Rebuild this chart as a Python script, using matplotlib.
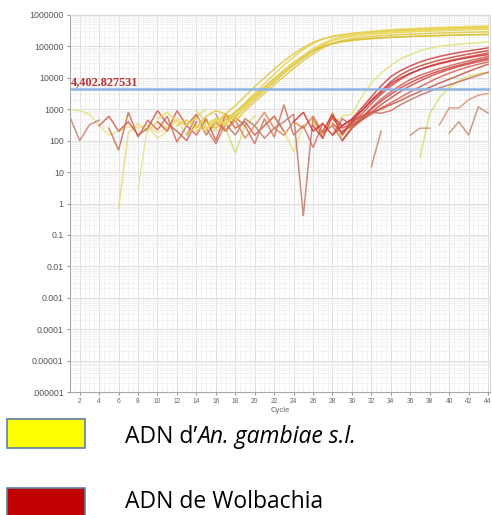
import numpy as np
import matplotlib
matplotlib.use('Agg')
import matplotlib.pyplot as plt
from matplotlib.patches import Rectangle
from matplotlib.ticker import MultipleLocator, LogLocator, NullFormatter

threshold = 4402.827531

# An. gambiae amplification curves: (start cycle, fluorescence values)
gamb_starts = [12, 14, 15, 10, 16, 13, 17, 15]
gamb_values = [
    [300, 450, 250, 600, 900, 700, 1300, 2600, 5200, 10000, 19000, 34000, 58000, 92000, 135000, 175000, 205000, 230000, 250000, 268000, 283000, 297000, 310000, 322000, 333000, 344000, 354000, 364000, 373000, 382000, 390000, 398000, 405000],
    [200, 350, 500, 300, 800, 1500, 2800, 5000, 9000, 16000, 28000, 47000, 75000, 110000, 150000, 185000, 210000, 228000, 243000, 256000, 268000, 279000, 289000, 298000, 307000, 315000, 323000, 330000, 337000, 344000, 350000],
    [400, 250, 450, 600, 1100, 2100, 4000, 7500, 14000, 25000, 43000, 70000, 100000, 125000, 145000, 160000, 172000, 181000, 189000, 196000, 202000, 208000, 213000, 218000, 222000, 226000, 230000, 234000, 237000, 240000],
    [500, 800, 400, 300, 550, 250, 400, 700, 500, 1200, 2400, 4600, 8800, 16500, 30000, 52000, 85000, 125000, 170000, 210000, 245000, 275000, 300000, 320000, 338000, 354000, 368000, 381000, 393000, 404000, 414000, 424000, 433000, 442000, 450000],
    [300, 700, 400, 900, 1700, 3200, 6000, 11000, 20000, 35000, 58000, 90000, 125000, 155000, 178000, 195000, 208000, 219000, 229000, 238000, 246000, 253000, 260000, 266000, 272000, 277000, 282000, 286000, 290000],
    [150, 300, 200, 500, 350, 800, 1600, 3300, 6500, 13000, 25000, 46000, 80000, 125000, 170000, 210000, 240000, 262000, 280000, 296000, 310000, 323000, 335000, 346000, 356000, 366000, 375000, 384000, 392000, 400000, 408000, 415000],
    [500, 800, 1400, 2700, 5000, 9500, 17500, 31000, 50000, 75000, 100000, 122000, 140000, 154000, 166000, 176000, 185000, 193000, 200000, 206000, 212000, 217000, 222000, 226000, 230000, 234000, 237000, 240000],
    [250, 500, 300, 700, 1300, 2500, 4500, 8500, 16000, 29000, 50000, 82000, 120000, 160000, 195000, 222000, 243000, 260000, 275000, 288000, 300000, 311000, 321000, 330000, 339000, 347000, 355000, 362000, 369000, 375000],
]
gamb_colors = ['#e2c63a', '#e8d24a', '#d8bd2e', '#ecd75a', '#e0c440', '#e6cf50', '#dcc238', '#eada60']

# late / weak yellow curves and baseline noise
late_starts = [21, 37, 1, 6, 8, 14, 26]
late_values = [
    [300, 600, 200, 45, 300, 500, 150, 350, 600, 700, 2500, 7000, 14000, 25000, 40000, 55000, 72000, 88000, 100000, 110000, 118000, 125000, 132000, 140000],
    [30, 700, 2300, 5000, 8000, 11000, 13500, 15000],
    [1000, 900, 700, 300, 150, 200, 280, 250, 320, 180, 260],
    [0.7, 180, 350, 200, 400, 250, 500, 300, 600, 1000],
    [3, 300, 120, 200, 450, 150, 350],
    [900, 400, 200, 250, 40, 300, 600],
    [400, 150, 800, 100, 300],
]
late_colors = ['#dfe27a', '#d8dc6a', '#ece08a', '#e8d877', '#e6e090', '#d6dc70', '#e8b850']

# Wolbachia amplification curves
wolb_starts = [26, 27, 28, 24, 28, 29, 29, 30, 28, 30]
wolb_values = [
    [300, 120, 600, 300, 500, 1100, 2500, 5500, 11000, 17000, 24000, 32000, 40000, 48000, 56000, 64000, 72000, 80000, 90000],
    [200, 700, 150, 400, 900, 2000, 3800, 7500, 12500, 18000, 24000, 30000, 36500, 43000, 50000, 57000, 65000, 73000],
    [500, 250, 350, 700, 1500, 3000, 5500, 9000, 13500, 18500, 24000, 29500, 35000, 41000, 47000, 54000, 62000],
    [400, 800, 200, 350, 150, 300, 450, 900, 1800, 3500, 6500, 10000, 14000, 18500, 23000, 28000, 33000, 38500, 44000, 49500, 55000],
    [150, 500, 300, 550, 1100, 2100, 3600, 5800, 8800, 12000, 15500, 19500, 24000, 29000, 34500, 41000, 48000],
    [200, 300, 500, 1000, 1800, 3000, 4800, 7000, 9800, 13000, 16500, 20500, 25000, 30000, 36000, 42000],
    [100, 250, 450, 800, 1400, 2300, 3700, 5600, 8000, 11000, 14500, 18500, 23000, 27500, 32500, 38000],
    [300, 450, 700, 1100, 1600, 2400, 3600, 5200, 7500, 10500, 14000, 18000, 22500, 27000, 32000],
    [350, 180, 400, 600, 800, 1000, 1400, 1900, 2700, 3700, 5000, 6800, 9000, 12000, 16000, 21000, 27000],
    [250, 500, 800, 750, 900, 1400, 2000, 2800, 3700, 4800, 6000, 7500, 9500, 12000, 15000],
]
wolb_colors = ['#d03c3c', '#c8403a', '#d4504a', '#cc3434', '#d85848', '#c84444', '#d04840', '#dc5a50', '#c85040', '#c8705a']

# red / brown noise and late weak curves
noise_starts = [5, 1, 10, 13, 16, 19, 4, 39, 40, 36, 32]
noise_values = [
    [250, 50, 800, 130, 450, 220, 600, 90, 300, 700, 150, 400, 200, 550, 300],
    [560, 100, 320, 450],
    [400, 200, 900, 300, 150, 500, 100, 700, 250, 400, 150, 300, 600, 200],
    [150, 600, 250, 80, 350, 150, 500, 300, 120, 250, 400, 700, 0.4, 600, 180, 300, 100, 250],
    [700, 200, 450, 120, 300, 800, 250, 150, 400, 250, 600, 120],
    [300, 80, 500, 130, 1400, 150, 300, 60, 350],
    [300, 600, 200, 400, 150, 250, 900, 350, 200, 100, 400],
    [320, 1100, 1100, 2000, 2800, 3200],
    [175, 400, 150, 1200, 750],
    [150, 250, 250],
    [15, 200],
]
noise_colors = ['#d06a50', '#c8806a', '#d85a48', '#c07868', '#e0804c', '#d07060', '#cc5a4a', '#d89070', '#c88a70', '#c89078', '#c88070']

ytick_vals = [1e-6, 1e-5, 1e-4, 1e-3, 1e-2, 1e-1, 1, 10, 100, 1000, 1e4, 1e5, 1e6]
ytick_labels = ['.000001', '0.00001', '0.0001', '0.001', '0.01', '0.1', '1', '10', '100', '1000', '10000', '100000', '1000000']
xtick_vals = list(range(2, 45, 2))

fig = plt.figure(figsize=(4.92, 5.15), dpi=100)
ax = fig.add_axes([70/492, 1-392/515, 420/492, 377/515])
ax.set_yscale('log')
ax.set_xlim(1, 44.2)
ax.set_ylim(1e-6, 1e6)

ax.xaxis.set_major_locator(MultipleLocator(2))
ax.xaxis.set_minor_locator(MultipleLocator(0.5))
ax.yaxis.set_minor_locator(LogLocator(base=10, subs=np.arange(2, 10), numticks=20))
ax.yaxis.set_minor_formatter(NullFormatter())
ax.grid(which='major', color='#dedede', lw=0.7)
ax.grid(which='minor', color='#efefef', lw=0.5)
ax.set_axisbelow(True)

ax.set_yticks(ytick_vals)
ax.set_yticklabels(ytick_labels, fontsize=6.3, color='#555555', family='Liberation Sans')
ax.set_xticks(xtick_vals)
ax.set_xticklabels([str(v) for v in xtick_vals], fontsize=4.8, color='#666666', family='Liberation Sans')
ax.tick_params(which='major', length=2.5, color='#999999', pad=2)
ax.tick_params(which='minor', length=0)
ax.set_xlabel('Cycle', fontsize=5.5, color='#666666', labelpad=1, family='Liberation Sans')

for sp in ['left', 'bottom']:
    ax.spines[sp].set_color('#a8a8a8')
for sp in ['top', 'right']:
    ax.spines[sp].set_color('#d8d8d8')

def draw(starts, values, colors, lw=1.1):
    for s, v, c in zip(starts, values, colors):
        x = np.arange(s, s + len(v))
        ax.plot(x, v, color=c, lw=lw, alpha=0.85, solid_joinstyle='miter')

draw(late_starts, late_values, late_colors)
draw(noise_starts, noise_values, noise_colors)
draw(gamb_starts, gamb_values, gamb_colors)
draw(wolb_starts, wolb_values, wolb_colors)

ax.axhline(threshold, color='#8db2e4', lw=1.8)
ax.text(1.1, threshold * 1.1, '4,402.827531', fontsize=8.8, fontweight='bold',
        family='Liberation Serif', color='#b83232', va='bottom', ha='left')

# legend boxes below the chart
fig.add_artist(Rectangle((7/492, 1-448/515), 78/492, 29/515, transform=fig.transFigure,
                         facecolor='#ffff00', edgecolor='#5a7fa8', lw=1.2))
fig.add_artist(Rectangle((7/492, -0.01), 78/492, 27/515 + 0.01, transform=fig.transFigure,
                         facecolor='#c00000', edgecolor='#5a7fa8', lw=1.2))

t1 = fig.text(125/492, 1-437/515, 'ADN d\u2019', fontsize=16.5, family='Open Sans', va='center', ha='left')
fig.canvas.draw()
bb = t1.get_window_extent(fig.canvas.get_renderer())
fig.text(bb.x1/492, 1-437/515, 'An. gambiae s.l.', fontsize=16.5, family='Open Sans',
         style='italic', va='center', ha='left')
fig.text(125/492, 1-502/515, 'ADN de Wolbachia', fontsize=16.5, family='Open Sans', va='center', ha='left')

fig.savefig('out.png', dpi=100)
